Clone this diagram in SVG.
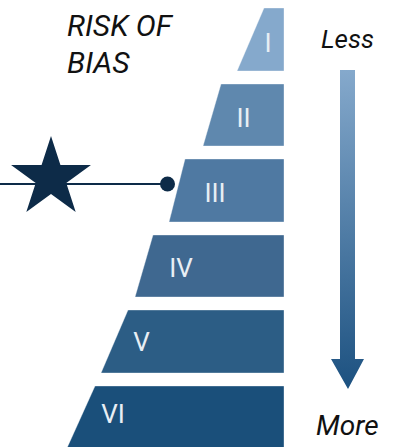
<svg xmlns="http://www.w3.org/2000/svg" width="403" height="447" viewBox="0 0 403 447">
<defs>
<linearGradient id="arrowGrad" gradientUnits="userSpaceOnUse" x1="0" y1="70" x2="0" y2="389">
<stop offset="0" stop-color="#85A9CC"/>
<stop offset="1" stop-color="#1C5180"/>
</linearGradient>
<style>
.num{font-family:Roboto,"Liberation Sans",sans-serif;font-size:26px;fill:#E8EEF4;text-anchor:middle}
.lab{font-family:Roboto,"Liberation Sans",sans-serif;font-style:italic;fill:#111111}
.tier{stroke:#FFFFFF;stroke-opacity:0.35;stroke-width:1}
</style>
</defs>
<rect width="403" height="447" fill="#FFFFFF"/>
<g id="title">
<text class="lab" x="67" y="36" font-size="30">RISK OF</text>
<text class="lab" x="67" y="73" font-size="30">BIAS</text>
</g>
<g id="tier-I"><polygon class="tier" points="264,8 284,8 284,71 237,71" fill="#85A9CC"/><text class="num" x="268" y="52">I</text></g>
<g id="tier-II"><polygon class="tier" points="221,84 284,84 284,146 203,146" fill="#5F88AE"/><text class="num" x="243.5" y="127">II</text></g>
<g id="tier-III"><polygon class="tier" points="185,159 284,159 284,222 169,222" fill="#4F79A2"/><text class="num" x="215" y="202">III</text></g>
<g id="tier-IV"><polygon class="tier" points="153,235 284,235 284,297 135,297" fill="#3F6890"/><text class="num" x="181" y="277">IV</text></g>
<g id="tier-V"><polygon class="tier" points="128,310 284,310 284,373 101,373" fill="#2C5D85"/><text class="num" x="141.5" y="351">V</text></g>
<g id="tier-VI"><polygon class="tier" points="95,386 284,386 284,448 67,448" fill="#1A4F7A"/><text class="num" x="113" y="423">VI</text></g>
<g id="scale">
<text class="lab" x="321" y="48" font-size="26">Less</text>
<path d="M340,70 H355 V359 H364 L348,389 L331,359 H340 Z" fill="url(#arrowGrad)"/>
<text class="lab" x="316" y="435" font-size="28">More</text>
</g>
<g id="connectors">
<line x1="0" y1="184" x2="167" y2="184" stroke="#0D2B48" stroke-width="2"/>
<circle cx="167.5" cy="184" r="7.5" fill="#0D2B48"/>
</g>
<g id="star">
<polygon points="51,136 60.43,165.02 90.94,165.02 66.26,182.96 75.69,211.98 51,194.04 26.31,211.98 35.74,182.96 11.06,165.02 41.57,165.02" fill="#0D2B48"/>
</g>
</svg>
